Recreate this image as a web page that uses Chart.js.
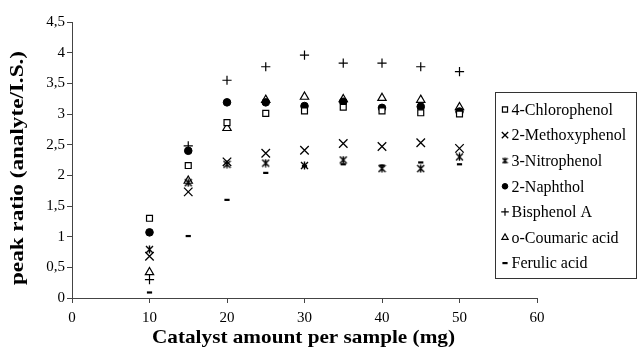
<!DOCTYPE html>
<html>
<head>
<meta charset="utf-8">
<script src="https://cdn.jsdelivr.net/npm/chart.js@4.4.0/dist/chart.umd.min.js"></script>
<style>
  html, body { margin: 0; padding: 0; background: #fff; }
</style>
</head>
<body>
<canvas id="myChart" width="638" height="354"></canvas>
<script>
// catalyst amount (mg)
var catalyst = [10, 15, 20, 25, 30, 35, 40, 45, 50];

// peak ratio (analyte/I.S.)
var chlorophenol = [1.30, 2.16, 2.86, 3.01, 3.05, 3.11, 3.05, 3.02, 3.00];
var methoxyphenol = [0.68, 1.73, 2.22, 2.36, 2.41, 2.52, 2.47, 2.53, 2.44];
var nitrophenol = [0.79, 1.88, 2.18, 2.20, 2.16, 2.25, 2.11, 2.11, 2.30];
var naphthol = [1.07, 2.40, 3.19, 3.19, 3.13, 3.20, 3.10, 3.12, 3.04];
var bisphenol = [0.30, 2.48, 3.55, 3.77, 3.96, 3.83, 3.83, 3.77, 3.69];
var coumaric = [0.42, 1.91, 2.77, 3.23, 3.28, 3.24, 3.26, 3.23, 3.11];
var ferulic = [0.09, 1.01, 1.60, 2.04, 2.15, 2.18, 2.16, 2.21, 2.18];

var seriesNames = ['4-Chlorophenol', '2-Methoxyphenol', '3-Nitrophenol', '2-Naphthol',
                   'Bisphenol A', 'o-Coumaric acid', 'Ferulic acid'];

var yTicks = [0, 0.5, 1, 1.5, 2, 2.5, 3, 3.5, 4, 4.5];
var xTicks = [0, 10, 20, 30, 40, 50, 60];

var xTitle = 'Catalyst amount per sample (mg)';
var yTitle = 'peak ratio (analyte/I.S.)';

var serifFont = "'Liberation Serif', 'DejaVu Serif', serif";

// excel style asterisk marker: X with a vertical bar
function asteriskMarker(size){
    var c = document.createElement('canvas');
    c.width = size; c.height = size;
    var g = c.getContext('2d');
    g.strokeStyle = '#000';
    g.lineWidth = 1.4;
    g.beginPath();
    g.moveTo(1, 1); g.lineTo(size - 1, size - 1);
    g.moveTo(size - 1, 1); g.lineTo(1, size - 1);
    g.moveTo(size / 2, 0.5); g.lineTo(size / 2, size - 0.5);
    g.stroke();
    return c;
}

function points(arr){
    return catalyst.map(function(x, i){ return {x: x, y: arr[i]}; });
}

var styles = [
    {pointStyle: 'rect', radius: 4.2, legendRadius: 3.6, bg: '#fff', bw: 1.2},
    {pointStyle: 'crossRot', radius: 6, legendRadius: 4.5, bg: '#fff', bw: 1.3},
    {pointStyle: asteriskMarker(9), radius: 5, legendRadius: 4, bg: '#fff', bw: 1, legendImg: asteriskMarker(7)},
    {pointStyle: 'circle', radius: 3.8, legendRadius: 2.8, bg: '#000', bw: 1},
    {pointStyle: 'cross', radius: 4.6, legendRadius: 3.8, bg: '#fff', bw: 1.2},
    {pointStyle: 'triangle', radius: 4.8, legendRadius: 3.6, bg: '#fff', bw: 1.2},
    {pointStyle: 'line', radius: 2.6, legendRadius: 2.6, bg: '#000', bw: 2.2}
];
var seriesData = [chlorophenol, methoxyphenol, nitrophenol, naphthol, bisphenol, coumaric, ferulic];

var datasets = seriesData.map(function(arr, i){
    var s = styles[i];
    return {
        label: seriesNames[i],
        data: points(arr),
        showLine: false,
        pointStyle: s.pointStyle,
        pointRadius: s.radius,
        pointHoverRadius: s.radius,
        pointBackgroundColor: s.bg,
        pointBorderColor: '#000',
        pointBorderWidth: s.bw,
        backgroundColor: s.bg,
        borderColor: '#000'
    };
});

// boxed legend drawn over the right side of the plot
var boxLegend = {
    id: 'boxLegend',
    afterDraw: function(chart){
        var ctx = chart.ctx;
        ctx.save();
        ctx.fillStyle = '#fff';
        ctx.fillRect(495.5, 92.5, 141, 186);
        ctx.strokeStyle = '#333';
        ctx.lineWidth = 1;
        ctx.strokeRect(495.5, 92.5, 141, 186);
        ctx.font = '16px ' + serifFont;
        ctx.textBaseline = 'middle';
        chart.data.datasets.forEach(function(ds, i){
            var s = styles[i];
            var y = 109.5 + i * 25.6;
            ctx.fillStyle = s.bg;
            ctx.strokeStyle = '#000';
            ctx.lineWidth = s.bw;
            Chart.helpers.drawPoint(ctx, {
                pointStyle: s.legendImg || s.pointStyle,
                radius: s.legendRadius,
                borderWidth: s.bw,
                rotation: 0
            }, 505, y);
            ctx.fillStyle = '#000';
            ctx.fillText(ds.label, 511.5, y + 1);
        });
        ctx.restore();
    }
};

// axis titles, a bit wider than the plain font
var axisTitles = {
    id: 'axisTitles',
    afterDraw: function(chart){
        var ctx = chart.ctx;
        var area = chart.chartArea;
        ctx.save();
        ctx.fillStyle = '#000';
        ctx.font = 'bold 19px ' + serifFont;
        ctx.textAlign = 'center';
        ctx.textBaseline = 'alphabetic';

        var w = ctx.measureText(xTitle).width;
        ctx.save();
        ctx.translate((area.left + area.right) / 2 - 1, 343);
        ctx.scale(303 / w, 1);
        ctx.fillText(xTitle, 0, 0);
        ctx.restore();

        w = ctx.measureText(yTitle).width;
        ctx.save();
        ctx.translate(23, 168);
        ctx.rotate(-Math.PI / 2);
        ctx.scale(234 / w, 1);
        ctx.fillText(yTitle, 0, 0);
        ctx.restore();

        ctx.restore();
    }
};

var ctx = document.getElementById('myChart');
var myChart = new Chart(ctx, {
    type: 'scatter',
    data: { datasets: datasets },
    plugins: [boxLegend, axisTitles],
    options: {
        responsive: false,
        animation: false,
        layout: { padding: { top: 22, right: 101, left: 0, bottom: 0 } },
        plugins: {
            legend: { display: false },
            tooltip: { enabled: false }
        },
        scales: {
            x: {
                type: 'linear',
                min: 0, max: 60,
                afterFit: function(scale){ scale.height = 56; },
                afterBuildTicks: function(scale){ scale.ticks = xTicks.map(function(v){ return {value: v}; }); },
                grid: { drawOnChartArea: false, tickLength: 5, color: '#444' },
                border: { color: '#444', width: 1 },
                ticks: { color: '#000', padding: 6, font: { family: serifFont, size: 15 } }
            },
            y: {
                type: 'linear',
                min: 0, max: 4.5,
                afterFit: function(scale){ scale.width = 72; },
                afterBuildTicks: function(scale){ scale.ticks = yTicks.map(function(v){ return {value: v}; }); },
                grid: { drawOnChartArea: false, tickLength: 5, color: '#444' },
                border: { color: '#444', width: 1 },
                ticks: {
                    color: '#000', padding: 2,
                    font: { family: serifFont, size: 15 },
                    callback: function(v){ return String(v).replace('.', ','); }
                }
            }
        }
    }
});
</script>
</body>
</html>
